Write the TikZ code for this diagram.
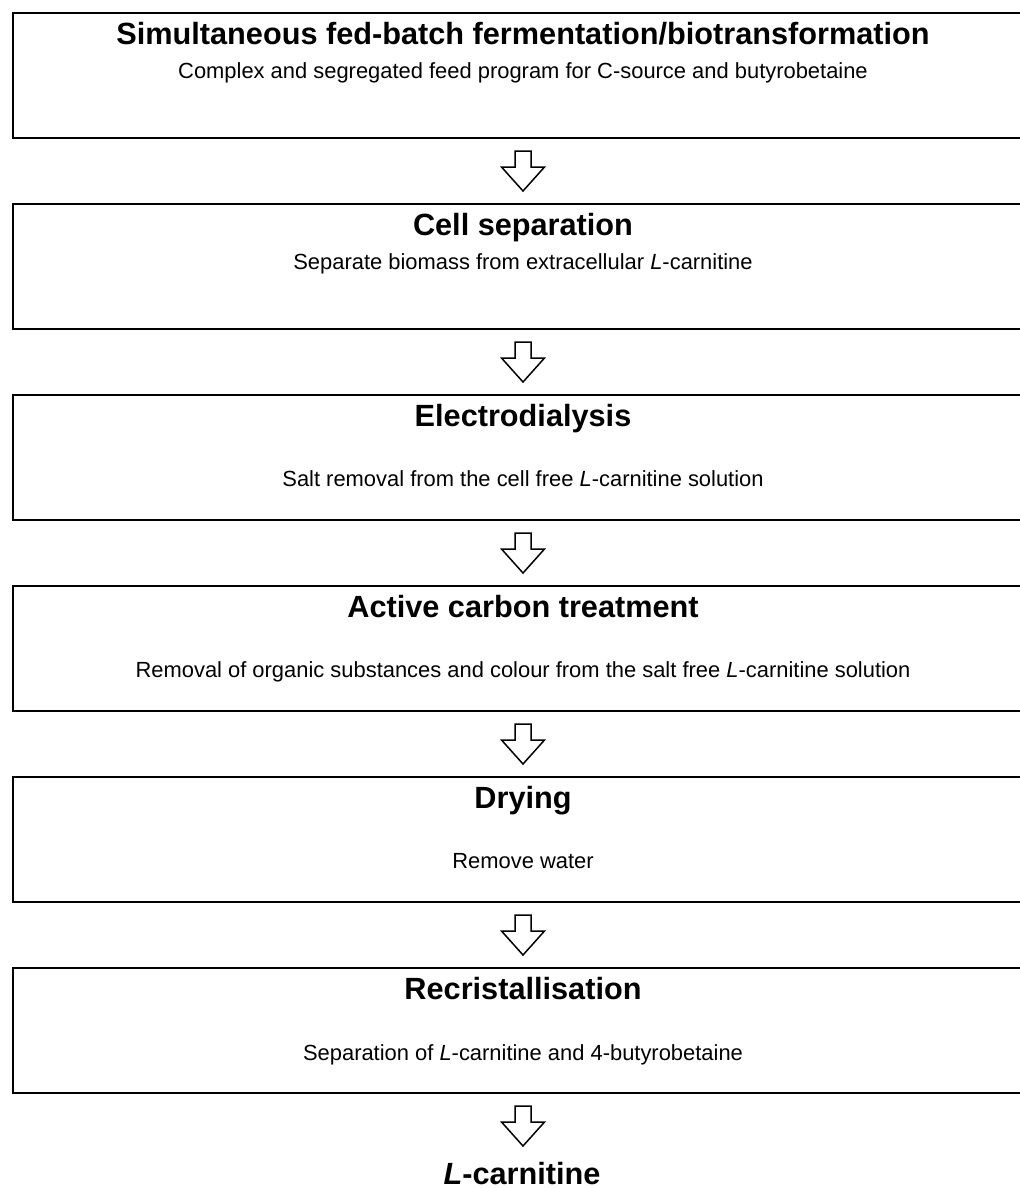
\documentclass[tikz,border=0pt]{standalone}
\usepackage{fontspec}
\setmainfont{Liberation Sans}
\usetikzlibrary{calc}
\tikzset{
  stepbox/.style={draw, line width=2bp, minimum width=1020bp, minimum height=125bp, anchor=north west, inner sep=0pt},
  steptitle/.style={font=\fontsize{30.8}{36}\bfseries\selectfont, anchor=base, inner sep=0pt},
  stepsub/.style={font=\fontsize{22}{26}\selectfont, anchor=base, inner sep=0pt},
  hollow/.style={draw, line width=1.5bp, fill=white, line join=miter}
}
\newcommand\harrow[1]{%
  \draw[hollow] ($(#1)+(-8,-20)$) -- ($(#1)+(8,-20)$) -- ($(#1)+(8,-4)$) -- ($(#1)+(21.5,-4)$) -- ($(#1)+(0,20)$) -- ($(#1)+(-21.5,-4)$) -- ($(#1)+(-8,-4)$) -- cycle;}
\begin{document}
\begin{tikzpicture}[x=1bp,y=-1bp]
\clip (0,0) rectangle (1020,1188);
\fill[white] (0,0) rectangle (1020,1188);
\node[stepbox] (b1) at (12,12) {};
\node[stepbox] (b2) at (12,203) {};
\node[stepbox] (b3) at (12,394) {};
\node[stepbox] (b4) at (12,585) {};
\node[stepbox] (b5) at (12,776) {};
\node[stepbox] (b6) at (12,967) {};
\node[steptitle] (t1) at ($(b1.north)+(0,32)$) {Simultaneous fed-batch fermentation/biotransformation};
\node[stepsub] (s1) at ($(b1.north)+(0,66)$) {Complex and segregated feed program for C-source and butyrobetaine};
\node[steptitle] (t2) at ($(b2.north)+(0,32)$) {Cell separation};
\node[stepsub] (s2) at ($(b2.north)+(0,66)$) {Separate biomass from extracellular \textit{L}-carnitine};
\node[steptitle] (t3) at ($(b3.north)+(0,32)$) {Electrodialysis};
\node[stepsub] (s3) at ($(b3.north)+(0,92)$) {Salt removal from the cell free \textit{L}-carnitine solution};
\node[steptitle] (t4) at ($(b4.north)+(0,32)$) {Active carbon treatment};
\node[stepsub] (s4) at ($(b4.north)+(0,92)$) {Removal of organic substances and colour from the salt free \textit{L}-carnitine solution};
\node[steptitle] (t5) at ($(b5.north)+(0,32)$) {Drying};
\node[stepsub] (s5) at ($(b5.north)+(0,92)$) {Remove water};
\node[steptitle] (t6) at ($(b6.north)+(0,32)$) {Recristallisation};
\node[stepsub] (s6) at ($(b6.north)+(0,93)$) {Separation of \textit{L}-carnitine and 4-butyrobetaine};
\node[steptitle] (end) at (522,1184) {\textit{L}-carnitine};
\coordinate (a1) at ($(b1.south)!0.5!(b2.north)$);
\coordinate (a2) at ($(b2.south)!0.5!(b3.north)$);
\coordinate (a3) at ($(b3.south)!0.5!(b4.north)$);
\coordinate (a4) at ($(b4.south)!0.5!(b5.north)$);
\coordinate (a5) at ($(b5.south)!0.5!(b6.north)$);
\coordinate (a6) at ($(b6.south)+(0,32)$);
\harrow{a1}
\harrow{a2}
\harrow{a3}
\harrow{a4}
\harrow{a5}
\harrow{a6}
\end{tikzpicture}
\end{document}
